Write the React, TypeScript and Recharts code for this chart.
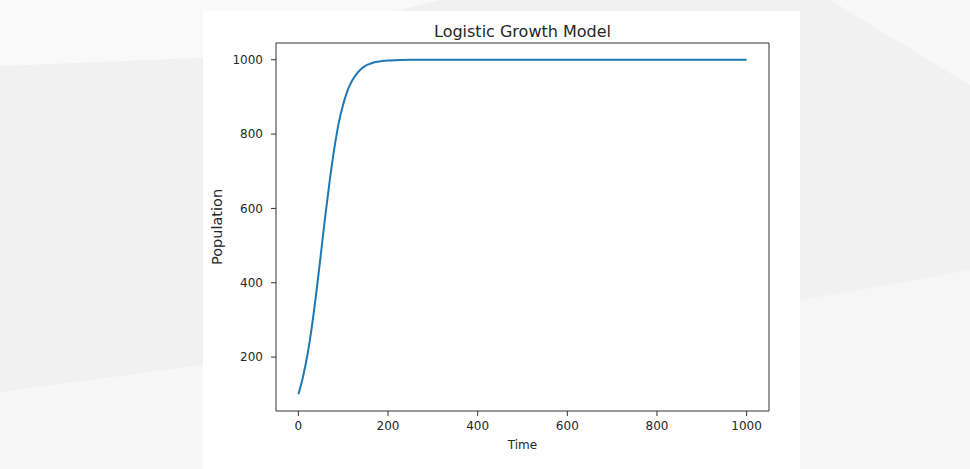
import { LineChart, Line, XAxis, YAxis, Label, ReferenceLine } from "recharts";

// values
const times = [
  0, 10, 20, 30, 40, 50, 60, 70, 80, 90, 100, 110, 120, 130, 140, 150, 160,
  170, 180, 190, 200, 225, 250, 300, 400, 500, 600, 700, 800, 900, 1000,
];
const population = [
  100, 146, 205, 282, 374, 476, 580, 676, 760, 830, 880, 918, 944, 962, 975,
  984, 989, 993, 995, 997, 998, 999, 1000, 1000, 1000, 1000, 1000, 1000, 1000,
  1000, 1000,
];
const xTicks = [0, 200, 400, 600, 800, 1000];
const yTicks = [200, 400, 600, 800, 1000];
const xDomain = [-50, 1050];
const yDomain = [55, 1045];

const data = times.map((t, i) => ({ t, population: population[i] }));

const ink = "#262626";
const spine = "#333333";
const tickStyle = { fontSize: 12, fill: ink };

export default function App() {
  return (
    <div
      style={{
        position: "absolute",
        left: 0,
        top: 0,
        width: 970,
        height: 469,
        overflow: "hidden",
        background: "#f1f1f2",
        fontFamily: "'DejaVu Sans', sans-serif",
      }}
    >
      {/* soft geometric backdrop */}
      <svg
        width={970}
        height={469}
        style={{ position: "absolute", left: 0, top: 0 }}
      >
        <polygon points="0,0 440,0 200,58 0,66" fill="#f9f9f9" />
        <polygon points="0,392 210,364 210,469 0,469" fill="#f7f7f8" />
        <polygon points="800,0 830,0 970,85 970,0" fill="#f8f8f9" />
        <polygon points="860,290 970,270 970,469 800,469 800,300" fill="#f6f6f7" />
      </svg>

      <div
        style={{
          position: "absolute",
          left: 203,
          top: 11,
          width: 597,
          height: 458,
          background: "#ffffff",
        }}
      >
        <LineChart
          width={597}
          height={458}
          data={data}
          margin={{ top: 32, right: 31, bottom: 28, left: 13 }}
        >
          <XAxis
            dataKey="t"
            type="number"
            domain={xDomain}
            ticks={xTicks}
            allowDataOverflow
            height={30}
            tick={tickStyle}
            tickSize={5}
            tickMargin={5}
            stroke={spine}
          >
            <Label
              value="Time"
              position="bottom"
              offset={-1}
              style={{ fontSize: 12, fill: ink }}
            />
          </XAxis>
          <YAxis
            type="number"
            domain={yDomain}
            ticks={yTicks}
            allowDataOverflow
            width={60}
            tick={tickStyle}
            tickSize={5}
            tickMargin={8}
            stroke={spine}
          >
            <Label
              value="Population"
              angle={-90}
              position="insideLeft"
              offset={1}
              style={{ fontSize: 14.5, fill: ink, textAnchor: "middle" }}
            />
          </YAxis>
          {/* top and right spines of the box */}
          <ReferenceLine
            y={yDomain[1]}
            stroke={spine}
            label={{
              value: "Logistic Growth Model",
              position: "top",
              offset: 6,
              style: { fontSize: 16, fill: ink },
            }}
          />
          <ReferenceLine x={xDomain[1]} stroke={spine} />
          <Line
            type="monotone"
            dataKey="population"
            stroke="#1f77b4"
            strokeWidth={2}
            dot={false}
            isAnimationActive={false}
          />
        </LineChart>
      </div>
    </div>
  );
}
